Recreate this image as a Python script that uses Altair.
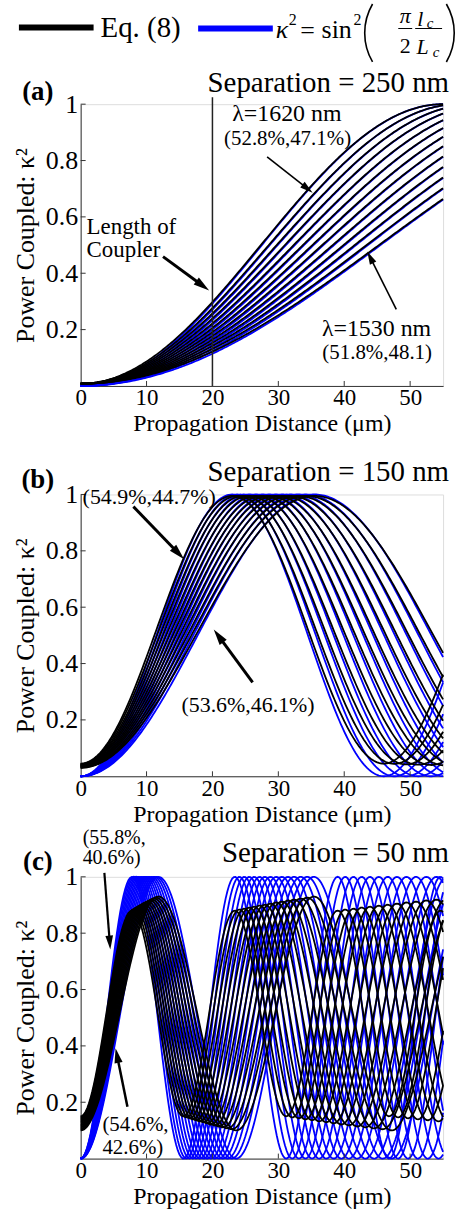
import math
import numpy as np
import pandas as pd
import altair as alt

FONT = "Liberation Serif, Times New Roman, Times, serif"
W, H = 364, 283
XMAX = 55.0
KX, KY = W / XMAX, H / 1.0

# ---------------- values ----------------
# wavelengths 1530 nm ... 1620 nm, one coupling length L_c (um) each
lc_a = [91.0, 87.2, 83.6, 80.2, 76.9, 73.7, 70.7, 67.8, 65.0, 62.3, 59.8, 57.4, 55.0]
lc_b = [35.5, 34.2, 33.0, 31.8, 30.7, 29.6, 28.6, 27.6, 26.6, 25.6, 24.7, 23.8, 23.0]
lc_c = [11.8, 11.46, 11.13, 10.80, 10.49, 10.18, 9.89, 9.60, 9.32, 9.05,
        8.78, 8.53, 8.28, 8.03, 7.8]
# Eq. (8): lowest / highest power coupled for each wavelength
lo_a = [0.008, 0.008, 0.008, 0.008, 0.008, 0.008, 0.008, 0.008, 0.008, 0.008, 0.008, 0.008, 0.008]
hi_a = [1.0, 1.0, 1.0, 1.0, 1.0, 1.0, 1.0, 1.0, 1.0, 1.0, 1.0, 1.0, 1.0]
lo_b = [0.030, 0.031, 0.032, 0.034, 0.035, 0.036, 0.037, 0.039, 0.040, 0.041, 0.042, 0.044, 0.045]
hi_b = [0.995, 0.995, 0.995, 0.995, 0.995, 0.995, 0.995, 0.995, 0.995, 0.995, 0.995, 0.995, 0.995]
lo_c = [0.100, 0.104, 0.107, 0.111, 0.114, 0.118, 0.121, 0.125, 0.129, 0.132,
        0.136, 0.139, 0.143, 0.146, 0.150]
hi_c = [0.930, 0.926, 0.923, 0.919, 0.916, 0.912, 0.909, 0.905, 0.901, 0.898,
        0.894, 0.891, 0.887, 0.884, 0.880]

x_ticks = [10, 20, 30, 40, 50]
y_ticks = [0.2, 0.4, 0.6, 0.8, 1.0]
coupler_length = 20

# annotations (data units): text, x, y, size, align
texts_a = [("λ=1620 nm", 31.3, 0.965, 24, "center"),
           ("(52.8%,47.1%)", 31.4, 0.876, 21, "center"),
           ("Length of", 0.9, 0.565, 23, "left"),
           ("Coupler", 0.9, 0.484, 23, "left"),
           ("λ=1530 nm", 44.9, 0.201, 24, "center"),
           ("(51.8%,48.1)", 45.0, 0.118, 21, "center")]
arrows_a = [(28.3, 0.813, 35.2, 0.686, 1.6, 13),
            (12.5, 0.459, 19.5, 0.339, 3.0, 16),
            (47.9, 0.272, 43.5, 0.477, 1.6, 13)]
texts_b = [("(54.9%,44.7%)", 10.4, 0.99, 22, "center"),
           ("(53.6%,46.1%)", 25.4, 0.254, 22, "center")]
arrows_b = [(8.0, 0.957, 15.7, 0.77, 3.0, 16),
            (26.1, 0.333, 20.2, 0.521, 3.0, 16)]
texts_c = [("(55.8%,", 0.3, 1.138, 20, "left"),
           ("40.6%)", 0.3, 1.067, 20, "left"),
           ("(54.6%,", 3.3, 0.120, 21, "left"),
           ("42.6%)", 3.3, 0.039, 21, "left")]
arrows_c = [(3.6, 1.014, 4.5, 0.742, 2.2, 14),
            (7.1, 0.184, 5.3, 0.392, 2.5, 15)]

xs = np.round(np.arange(0, XMAX + 1e-9, 0.25), 3)

X = alt.X("x:Q", scale=alt.Scale(domain=[0, XMAX], nice=False, zero=False),
          axis=alt.Axis(values=[0, 10, 20, 30, 40, 50], ticks=False, tickSize=0, grid=False,
                        domainColor="#333333", domainWidth=1,
                        labelFont=FONT, labelFontSize=23, labelColor="black",
                        labelBaseline="middle", labelPadding=12, labelFlush=False,
                        labelOverlap=False,
                        title="Propagation Distance (μm)", titleFont=FONT, titleFontSize=24,
                        titleFontWeight="normal", titleColor="black",
                        titleX=W / 2, titleY=38, titleBaseline="middle", titleAlign="center"))
Y = alt.Y("y:Q", scale=alt.Scale(domain=[0, 1], nice=False, zero=False),
          axis=alt.Axis(values=y_ticks, ticks=False, tickSize=0, grid=False,
                        labelExpr="datum.value == 1 ? '1' : format(datum.value, '.1f')",
                        domainColor="#333333", domainWidth=1,
                        labelFont=FONT, labelFontSize=26, labelColor="black",
                        labelPadding=3, labelFlush=False, labelOverlap=False,
                        title="Power Coupled: κ²", titleFont=FONT, titleFontSize=26,
                        titleFontWeight="normal", titleColor="black",
                        titleX=-55, titleY=H / 2, titleAngle=270,
                        titleBaseline="middle", titleAlign="center"))

HEAD_PATH = "M0,-1L0.55,1L-0.55,1Z"


def ptext(t, px, py, size, align="center", style="normal", weight="normal"):
    return alt.Chart(pd.DataFrame({"t": [t]})).mark_text(
        font=FONT, fontSize=size, align=align, baseline="middle",
        fontStyle=style, fontWeight=weight, color="black"
    ).encode(x=alt.value(px), y=alt.value(py), text="t:N")


def panel(lcs, los, his, label, sep, label_y, title_y, texts, arrows, extra=()):
    rows = []
    for i, (lc, lo, hi) in enumerate(zip(lcs, los, his)):
        s = np.sin(np.pi / 2 * xs / lc) ** 2
        e = lo + (hi - lo) * s
        for xv, sv, ev in zip(xs, s, e):
            rows.append((i, float(xv), round(float(sv), 4), "sin"))
            rows.append((i, float(xv), round(float(ev), 4), "eq8"))
    df = pd.DataFrame(rows, columns=["curve", "x", "y", "model"])

    blue = alt.Chart(df[df.model == "sin"]).mark_line(
        color="#0000ff", strokeWidth=1.8).encode(X, Y, detail="curve:N")
    black = alt.Chart(df[df.model == "eq8"]).mark_line(
        color="#000000", strokeWidth=1.8).encode(X, Y, detail="curve:N")

    xt = alt.Chart(pd.DataFrame({"x": x_ticks})).mark_rule(
        color="#333333", strokeWidth=1).encode(X, y=alt.value(H), y2=alt.value(H - 5))
    yt = alt.Chart(pd.DataFrame({"y": y_ticks})).mark_rule(
        color="#333333", strokeWidth=1).encode(Y, x=alt.value(0), x2=alt.value(5))

    shafts, heads = [], []
    for (x1, y1, x2, y2, w, hl) in arrows:
        dxp, dyp = (x2 - x1) * KX, (y2 - y1) * KY
        L = math.hypot(dxp, dyp)
        ux, uy = dxp / L, dyp / L
        s = hl / 2
        cx, cy = x2 - ux * s / KX, y2 - uy * s / KY
        ang = math.degrees(math.atan2(ux, uy)) % 360
        shafts.append(dict(x=x1, y=y1, x2=cx, y2=cy, w=w))
        heads.append(dict(x=cx, y=cy, ang=ang, sz=hl * hl))
    shaft = alt.Chart(pd.DataFrame(shafts)).mark_rule(color="black").encode(
        X, Y, x2="x2:Q", y2="y2:Q", strokeWidth=alt.StrokeWidth("w:Q", scale=None))
    head = alt.Chart(pd.DataFrame(heads)).mark_point(
        shape=HEAD_PATH, filled=True, color="black", opacity=1, strokeWidth=0).encode(
        X, Y, angle=alt.Angle("ang:Q", scale=None), size=alt.Size("sz:Q", scale=None))

    layers = [blue, black] + list(extra) + [xt, yt, shaft, head]
    for (t, tx, ty, size, align) in texts:
        layers.append(alt.Chart(pd.DataFrame({"t": [t], "x": [tx], "y": [ty]})).mark_text(
            font=FONT, fontSize=size, align=align, baseline="middle", color="black"
        ).encode(X, Y, text="t:N"))
    layers.append(ptext(label, -43, label_y, 27, weight="bold"))
    layers.append(ptext(sep, 370, title_y, 29, align="right"))
    return layers


# vertical line marking the coupler length in (a)
vline = alt.Chart(pd.DataFrame({"x": [coupler_length], "y": [0.0], "y2": [1.025]})).mark_rule(
    color="#222222", strokeWidth=1.5).encode(X, Y, y2="y2:Q")

# legend (pixel positions relative to panel (a) plot origin)
one = pd.DataFrame({"k": [0]})
legend = [
    alt.Chart(one).mark_rule(color="black", strokeWidth=6).encode(
        x=alt.value(-62), x2=alt.value(13), y=alt.value(-77)),
    ptext("Eq. (8)", 20, -76, 29, align="left"),
    alt.Chart(one).mark_rule(color="#0000ff", strokeWidth=6).encode(
        x=alt.value(118), x2=alt.value(193), y=alt.value(-76)),
    ptext("κ", 196, -74, 26, align="left", style="italic"),
    ptext("2", 209, -85, 16, align="left"),
    ptext("=", 228, -73, 26, align="center"),
    ptext("sin", 242, -74, 26, align="left"),
    ptext("2", 274, -85, 16, align="left"),
    alt.Chart(one).mark_arc(theta=4.184, theta2=5.241, radius=58.5, radius2=56.9,
                            color="black").encode(x=alt.value(343), y=alt.value(-71.5)),
    alt.Chart(one).mark_arc(theta=1.042, theta2=2.100, radius=58.5, radius2=56.9,
                            color="black").encode(x=alt.value(317.5), y=alt.value(-71.5)),
    ptext("π", 326, -89, 22, style="italic"),
    alt.Chart(one).mark_rule(color="black", strokeWidth=1).encode(
        x=alt.value(319), x2=alt.value(333), y=alt.value(-76)),
    ptext("2", 326, -58, 22),
    ptext("l", 341, -86, 22, style="italic"),
    ptext("c", 351, -81.5, 15, style="italic"),
    alt.Chart(one).mark_rule(color="black", strokeWidth=1).encode(
        x=alt.value(336), x2=alt.value(363), y=alt.value(-76)),
    ptext("L", 343.5, -57.5, 22, style="italic"),
    ptext("c", 357, -52.5, 15, style="italic"),
]

pa = alt.layer(*(panel(lc_a, lo_a, hi_a, "(a)", "Separation = 250 nm", -12, -21,
                       texts_a, arrows_a, extra=[vline]) + legend)).properties(width=W, height=H)
pb = alt.layer(*panel(lc_b, lo_b, hi_b, "(b)", "Separation = 150 nm", -15, -23,
                      texts_b, arrows_b)).properties(width=W, height=H)
pc = alt.layer(*panel(lc_c, lo_c, hi_c, "(c)", "Separation = 50 nm", -15, -24,
                      texts_c, arrows_c)).properties(width=W, height=H)

chart = alt.vconcat(alt.vconcat(pa, pb, spacing=20), pc, spacing=0).properties(
    padding={"left": 12, "top": 0, "right": 5, "bottom": 0}
).configure_view(stroke=None).configure(background="white")

chart.save("out.html", embed_options={"renderer": "svg", "actions": False})
